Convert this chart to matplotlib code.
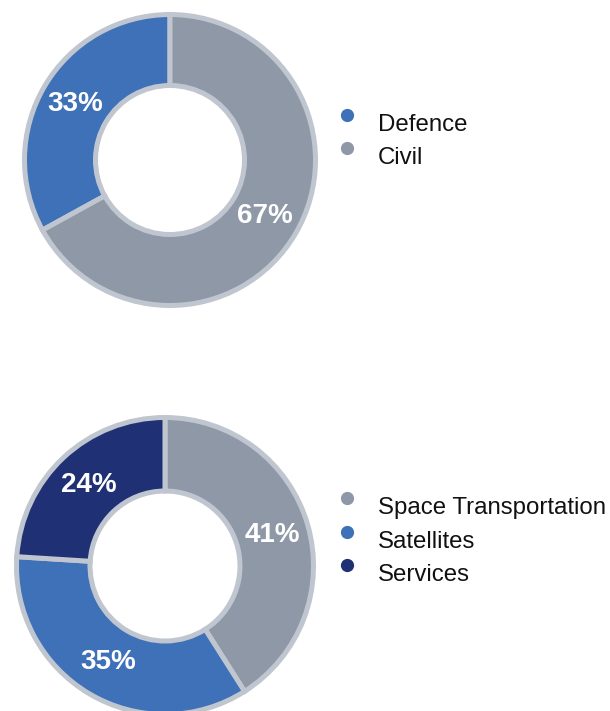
import matplotlib
matplotlib.use("Agg")
import matplotlib.pyplot as plt
from matplotlib.lines import Line2D

plt.rcParams['font.family'] = ['Liberation Sans', 'DejaVu Sans']

# Data
top_labels = ["Defence", "Civil"]
top_values = [33, 67]
bottom_labels = ["Space Transportation", "Satellites", "Services"]
bottom_values = [41, 35, 24]

BLUE = "#3E71B7"
GRAY = "#8E98A7"
NAVY = "#1F3174"
EDGE = "#C0C6CF"
top_colors = [BLUE, GRAY]
bottom_colors = [GRAY, BLUE, NAVY]

W, H = 610, 711
fig = plt.figure(figsize=(W / 100, H / 100), dpi=100)
fig.patch.set_facecolor("white")


def pix_axes(cx, cy, half=165):
    left = (cx - half) / W
    bottom = (H - (cy + half)) / H
    ax = fig.add_axes([left, bottom, 2 * half / W, 2 * half / H])
    ax.set_xlim(-half, half)
    ax.set_ylim(-half, half)
    ax.axis("off")
    return ax


def donut(ax, values, colors, R, r_in, counterclock):
    wedges, texts, autotexts = ax.pie(
        values, colors=colors, startangle=90, counterclock=counterclock,
        radius=R, autopct=lambda p: f"{p:.0f}%",
        pctdistance=(R + r_in) / 2 / R,
        wedgeprops=dict(width=R - r_in, edgecolor=EDGE, linewidth=3.6),
        textprops=dict(color="white", fontsize=20, fontweight="bold"),
    )
    ax.set_xlim(-165, 165)
    ax.set_ylim(-165, 165)
    return wedges


donut(pix_axes(170, 160), top_values, top_colors, 145.5, 74.5, True)
donut(pix_axes(165, 566), bottom_values, bottom_colors, 148.5, 75, False)


def legend(labels, colors, y0, step):
    for i, (lab, col) in enumerate(zip(labels, colors)):
        ty = y0 + i * step
        fig.add_artist(Line2D([347 / W], [1 - (ty - 10) / H], marker="o",
                              markersize=8.5, color=col, linestyle="none",
                              transform=fig.transFigure))
        fig.text(378 / W, 1 - ty / H, lab, fontsize=17.3, color="#111111",
                 va="center", ha="left")


legend(top_labels, top_colors, 125, 33)
legend(bottom_labels, bottom_colors, 508, 33.5)

fig.savefig("out.png", dpi=100, facecolor="white")
